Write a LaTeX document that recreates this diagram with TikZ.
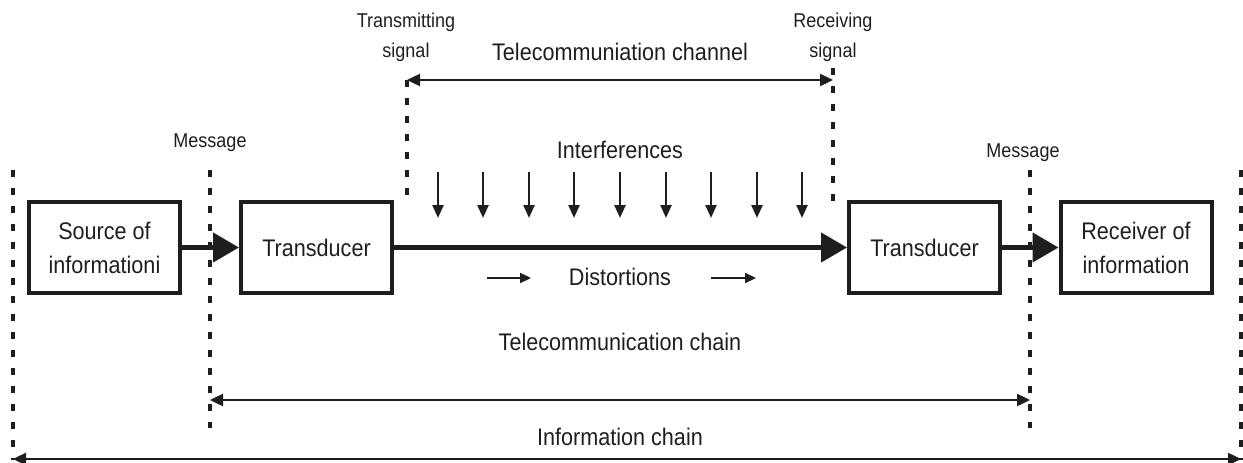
\documentclass[tikz,border=0pt]{standalone}
\usepackage{fontspec}
\setmainfont[FakeStretch=0.9]{Liberation Sans}
\usetikzlibrary{arrows.meta}
\definecolor{ink}{RGB}{30,30,30}
\begin{document}
\begin{tikzpicture}[x=1pt,y=-1pt, color=ink,
  box/.style={draw, line width=4pt, minimum width=151pt, minimum height=91pt, align=center,
    font=\fontsize{24}{34}\selectfont, inner sep=0pt},
  big/.style={font=\fontsize{24}{28}\selectfont, inner sep=0pt},
  small/.style={font=\fontsize{20}{30}\selectfont, inner sep=0pt, align=center},
  flow/.style={line width=4.5pt, -{Triangle[length=26pt,width=29pt]}},
  dimline/.style={line width=2.4pt, {Triangle[length=13pt,width=12pt]}-{Triangle[length=13pt,width=12pt]}},
  interf/.style={line width=2.4pt, -{Triangle[length=13pt,width=11pt]}},
  dist/.style={line width=2.2pt, -{Triangle[length=11pt,width=10pt]}},
  bound/.style={line width=3.5pt, dash pattern=on 7pt off 11pt},
]
\useasboundingbox (0,0) rectangle (1243,463);

% boxes
\node[box] (src) at (104.5,247.5) {Source of\\informationi};
\node[box] (tr1) at (316.5,247.5) {Transducer};
\node[box] (tr2) at (924.5,247.5) {Transducer};
\node[box] (rcv) at (1136,247.5) {Receiver of\\information};

% main flow
\draw[flow] (src) -- (tr1);
\draw[flow] (tr1) -- (tr2);
\draw[flow] (tr2) -- (rcv);

% boundary lines
\coordinate (o1t) at (13,170);   \coordinate (o1b) at (13,460);
\coordinate (m1t) at (210,170);  \coordinate (m1b) at (210,428);
\coordinate (t1t) at (407,80);   \coordinate (t1b) at (407,206);
\coordinate (r1t) at (833,68);   \coordinate (r1b) at (833,206);
\coordinate (m2t) at (1030,170); \coordinate (m2b) at (1030,428);
\coordinate (o2t) at (1241,170); \coordinate (o2b) at (1241,460);
\draw[bound] (o1t) -- (o1b);
\draw[bound] (m1t) -- (m1b);
\draw[bound] (t1t) -- (t1b);
\draw[bound] (r1t) -- (r1b);
\draw[bound] (m2t) -- (m2b);
\draw[bound] (o2t) -- (o2b);

% labels
\node[small] (msg1) at (210,143) {Message};
\node[small] (msg2) at (1023,153) {Message};
\node[small] (tsig) at (406,37) {Transmitting\\signal};
\node[small] (rsig) at (833,37) {Receiving\\signal};
\node[big] (chan) at (620,52) {Telecommuniation channel};
\node[big] (intf) at (620,150) {Interferences};
\node[big] (dist) at (620,277) {Distortions};
\node[big] (tchain) at (620,342) {Telecommunication chain};
\node[big] (ichain) at (620,437) {Information chain};

% dimension arrows
\coordinate (ca) at (407,80);  \coordinate (cb) at (833,80);
\draw[dimline] (ca) -- (cb);
\coordinate (ta) at (210,400); \coordinate (tb) at (1030,400);
\draw[dimline] (ta) -- (tb);
\coordinate (ia) at (13,459);  \coordinate (ib) at (1241,459);
\draw[dimline] (ia) -- (ib);

% interference arrows
\foreach \i/\x in {1/438,2/483,3/529,4/574,5/620,6/666,7/711,8/757,9/802}{
  \coordinate (it\i) at (\x,172);
  \coordinate (ib\i) at (\x,218);
  \draw[interf] (it\i) -- (ib\i);
}

% distortion arrows
\coordinate (d1a) at (487,278); \coordinate (d1b) at (531,278);
\coordinate (d2a) at (711,278); \coordinate (d2b) at (756,278);
\draw[dist] (d1a) -- (d1b);
\draw[dist] (d2a) -- (d2b);
\end{tikzpicture}
\end{document}
